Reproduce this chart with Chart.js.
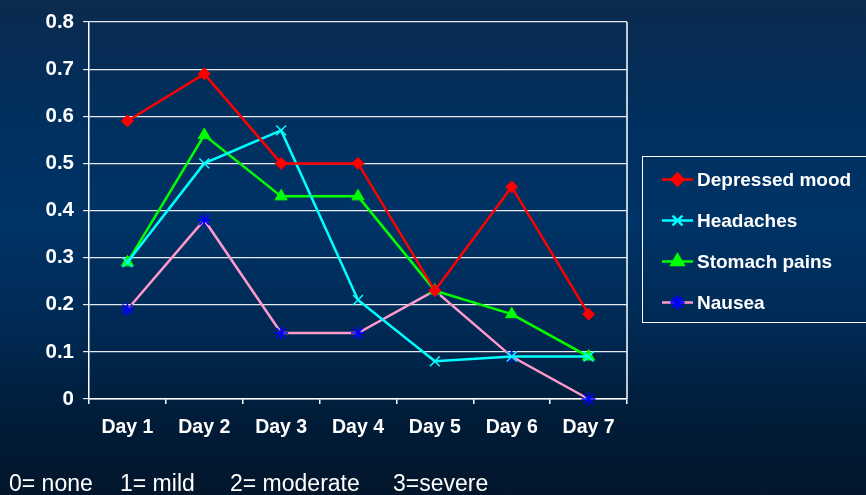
<!DOCTYPE html>
<html>
<head>
<meta charset="utf-8">
<script src="https://cdn.jsdelivr.net/npm/chart.js@4/dist/chart.umd.min.js"></script>
<style>
  html, body { margin: 0; padding: 0; }
  body {
    width: 866px; height: 495px; overflow: hidden; position: relative;
    background: linear-gradient(to bottom, #0b2a4e 0%, #00305f 25%, #003366 45%, #002a55 65%, #011c38 85%, #03162b 100%);
    font-family: "Liberation Sans", Arial, sans-serif;
  }
  #wrap { position: absolute; left: 0; top: 0; width: 866px; height: 495px; }
  .scale-note { position: absolute; top: 470px; color: #ffffff; font-size: 23px; line-height: 26px; white-space: nowrap; }
</style>
</head>
<body>
<div id="wrap"><canvas id="chart" width="866" height="495"></canvas></div>
<div class="scale-note" style="left:9px">0= none</div>
<div class="scale-note" style="left:120px">1= mild</div>
<div class="scale-note" style="left:230px">2= moderate</div>
<div class="scale-note" style="left:393px">3=severe</div>
<script>
// Symptom scores per day (0 = none ... 3 = severe)
const days = ["Day 1", "Day 2", "Day 3", "Day 4", "Day 5", "Day 6", "Day 7"];
const depressedMood = [0.59, 0.69, 0.50, 0.50, 0.23, 0.45, 0.18];
const headaches     = [0.29, 0.50, 0.57, 0.21, 0.08, 0.09, 0.09];
const stomachPains  = [0.29, 0.56, 0.43, 0.43, 0.23, 0.18, 0.09];
const nausea        = [0.19, 0.38, 0.14, 0.14, 0.23, 0.09, 0.00];
const yTicks = [0, 0.1, 0.2, 0.3, 0.4, 0.5, 0.6, 0.7, 0.8];

const FONT = '"Liberation Sans", Arial, sans-serif';

// Frame on the right side of the plot area plus the boxed legend
const framePlugin = {
  id: 'frame',
  afterDraw(chart) {
    const ctx = chart.ctx;
    const a = chart.chartArea;
    ctx.save();
    ctx.strokeStyle = '#ffffff';
    ctx.lineWidth = 1.5;
    ctx.beginPath();
    ctx.moveTo(a.right, a.top);
    ctx.lineTo(a.right, a.bottom);
    ctx.stroke();

    // legend box
    ctx.lineWidth = 1;
    ctx.strokeRect(642.5, 156.5, 240, 166);
    const rowY = [179.5, 220.5, 261.5, 302.5];
    ctx.font = 'bold 19px ' + FONT;
    ctx.textBaseline = 'middle';
    ctx.textAlign = 'left';
    chart.data.datasets.forEach((ds, i) => {
      const y = rowY[i];
      ctx.strokeStyle = ds.borderColor;
      ctx.lineWidth = 2.5;
      ctx.beginPath();
      ctx.moveTo(662, y);
      ctx.lineTo(693, y);
      ctx.stroke();
      ctx.fillStyle = ds.pointBackgroundColor;
      ctx.strokeStyle = ds.pointBorderColor;
      Chart.helpers.drawPoint(ctx, {
        pointStyle: ds.pointStyle,
        radius: ds.pointRadius,
        rotation: 0,
        borderWidth: ds.pointBorderWidth
      }, 677.5, y);
      ctx.fillStyle = '#ffffff';
      ctx.fillText(ds.label, 697, y + 1);
    });
    ctx.restore();
  }
};

new Chart(document.getElementById('chart'), {
  type: 'line',
  data: {
    labels: days,
    datasets: [
      {
        label: 'Depressed mood', data: depressedMood,
        borderColor: '#ff0000', borderWidth: 2.5,
        pointStyle: 'rectRot', pointRadius: 6,
        pointBackgroundColor: '#ff0000', pointBorderColor: '#ff0000', pointBorderWidth: 1
      },
      {
        label: 'Headaches', data: headaches,
        borderColor: '#00ffff', borderWidth: 2.5,
        pointStyle: 'crossRot', pointRadius: 7,
        pointBackgroundColor: '#00ffff', pointBorderColor: '#00ffff', pointBorderWidth: 1.5
      },
      {
        label: 'Stomach pains', data: stomachPains,
        borderColor: '#00ff00', borderWidth: 2.5,
        pointStyle: 'triangle', pointRadius: 7,
        pointBackgroundColor: '#00ff00', pointBorderColor: '#00ff00', pointBorderWidth: 1
      },
      {
        label: 'Nausea', data: nausea,
        borderColor: '#ff99cc', borderWidth: 2.5,
        pointStyle: 'star', pointRadius: 7,
        pointBackgroundColor: '#0000ff', pointBorderColor: '#0000ff', pointBorderWidth: 1.5
      }
    ]
  },
  plugins: [framePlugin],
  options: {
    responsive: false,
    animation: false,
    clip: false,
    layout: { padding: { left: 0, top: 22, right: 239, bottom: 0 } },
    elements: { line: { tension: 0 } },
    plugins: { legend: { display: false }, tooltip: { enabled: false } },
    scales: {
      x: {
        type: 'category',
        offset: true,
        grid: {
          offset: true, drawOnChartArea: false, drawTicks: true,
          tickLength: 5, color: '#ffffff', lineWidth: 1.5
        },
        border: { display: true, color: '#ffffff', width: 1.5 },
        ticks: { color: '#ffffff', font: { family: FONT, size: 19.5, weight: 'bold' }, padding: 12, maxRotation: 0 },
        afterFit(scale) { scale.height = 96; }
      },
      y: {
        min: 0, max: 0.8,
        afterBuildTicks(scale) { scale.ticks = yTicks.map(v => ({ value: v })); },
        grid: { color: 'rgba(255,255,255,0.9)', lineWidth: 1.2, tickLength: 6, drawTicks: true },
        border: { display: true, color: '#ffffff', width: 1.5 },
        ticks: {
          color: '#ffffff', padding: 9,
          font: { family: FONT, size: 20.5, weight: 'bold' },
          callback: v => (v === 0 ? '0' : v.toFixed(1))
        },
        afterFit(scale) { scale.width = 89; }
      }
    }
  }
});
</script>
</body>
</html>
